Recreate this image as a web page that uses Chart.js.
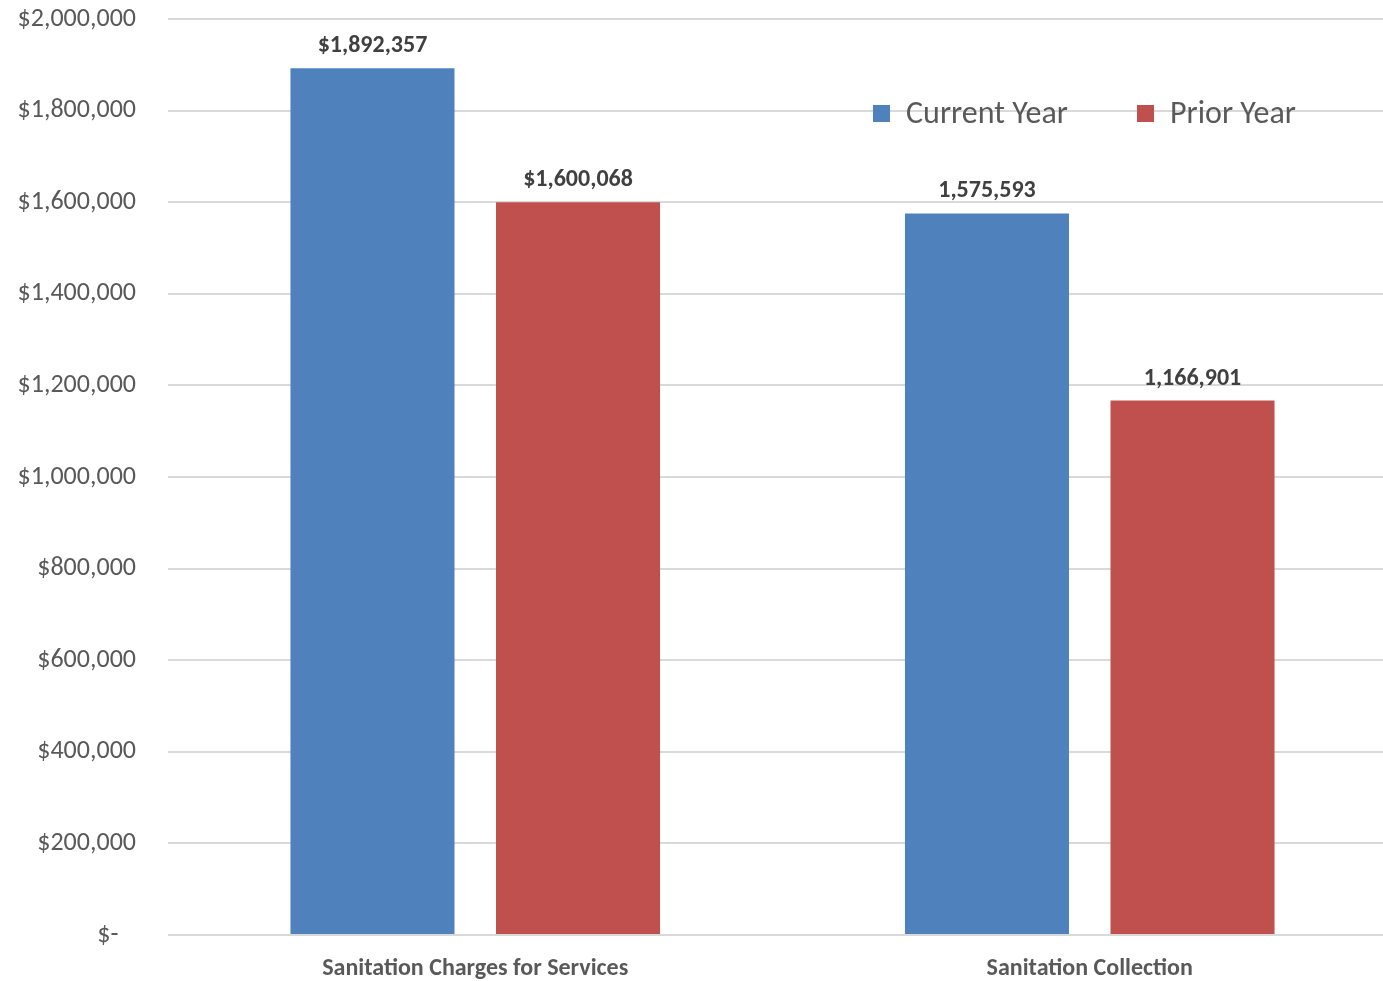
<!DOCTYPE html>
<html>
<head>
<meta charset="utf-8">
<script src="https://cdn.jsdelivr.net/npm/chart.js@4/dist/chart.umd.min.js"></script>
<style>
  html, body { margin: 0; padding: 0; background: #fff; overflow: hidden; }
  #wrap { width: 1400px; height: 981px; }
</style>
</head>
<body>
<div id="wrap"><canvas id="myChart" width="1400" height="981"></canvas></div>
<script>
const categories = ['Sanitation Charges for Services', 'Sanitation Collection'];
const currentYear = [1892357, 1575593];
const priorYear = [1600068, 1166901];
const labelPrefix = ['$', ''];   // first group is shown as currency
const seriesNames = ['Current Year', 'Prior Year'];
const seriesColors = ['#4F81BD', '#C0504D'];

const FONT = 'Carlito, Calibri, Lato, sans-serif';

function fmt(v) {
  return v.toLocaleString('en-US');
}

// value labels over each bar
const barLabels = {
  id: 'barLabels',
  afterDatasetsDraw(chart) {
    const ctx = chart.ctx;
    ctx.save();
    ctx.font = 'bold 24px ' + FONT;
    ctx.fillStyle = '#404040';
    ctx.textAlign = 'center';
    ctx.textBaseline = 'middle';
    chart.data.datasets.forEach((ds, di) => {
      chart.getDatasetMeta(di).data.forEach((bar, i) => {
        ctx.fillText(labelPrefix[i] + fmt(ds.data[i]), bar.x, bar.y - 22);
      });
    });
    ctx.restore();
  }
};

// legend sitting inside the plot, top right
const innerLegend = {
  id: 'innerLegend',
  afterDraw(chart) {
    const ctx = chart.ctx;
    const area = chart.chartArea;
    const starts = [area.right - 524, area.right - 260];
    ctx.save();
    ctx.font = '32px ' + FONT;
    ctx.textBaseline = 'middle';
    ctx.textAlign = 'left';
    chart.data.datasets.forEach((ds, i) => {
      const x = starts[i];
      const y = 114;
      ctx.fillStyle = ds.backgroundColor;
      ctx.fillRect(x, y - 9, 17, 17);
      ctx.fillStyle = '#595959';
      ctx.fillText(ds.label, x + 33, y + 1);
    });
    ctx.restore();
  }
};

const ctx = document.getElementById('myChart').getContext('2d');
const myChart = new Chart(ctx, {
  type: 'bar',
  data: {
    labels: categories,
    datasets: [{
      label: seriesNames[0],
      data: currentYear,
      backgroundColor: seriesColors[0]
    }, {
      label: seriesNames[1],
      data: priorYear,
      backgroundColor: seriesColors[1]
    }]
  },
  options: {
    responsive: false,
    animation: false,
    categoryPercentage: 0.669,
    barPercentage: 0.798,
    layout: { padding: { top: 0, right: 3, left: 0, bottom: 0 } },
    plugins: {
      legend: { display: false },
      tooltip: { enabled: false }
    },
    scales: {
      x: {
        grid: { display: false },
        border: { display: false },
        ticks: {
          padding: 12,
          color: '#595959',
          font: { family: FONT, size: 24, weight: 'bold' }
        },
        afterFit(scale) { scale.height = 46; }
      },
      y: {
        min: 0,
        max: 2000000,
        border: { display: false },
        grid: { color: '#D9D9D9', lineWidth: 2, drawTicks: false },
        ticks: {
          stepSize: 200000,
          padding: 32,
          color: '#595959',
          font: { family: FONT, size: 26 },
          callback: v => v === 0 ? '$-   ' : '$' + fmt(v)
        },
        afterFit(scale) {
          scale.width = 168;
          // tick padding would otherwise push the plot down
          scale.paddingTop = 19;
          scale.paddingBottom = 0;
        }
      }
    }
  },
  plugins: [barLabels, innerLegend]
});
</script>
</body>
</html>
